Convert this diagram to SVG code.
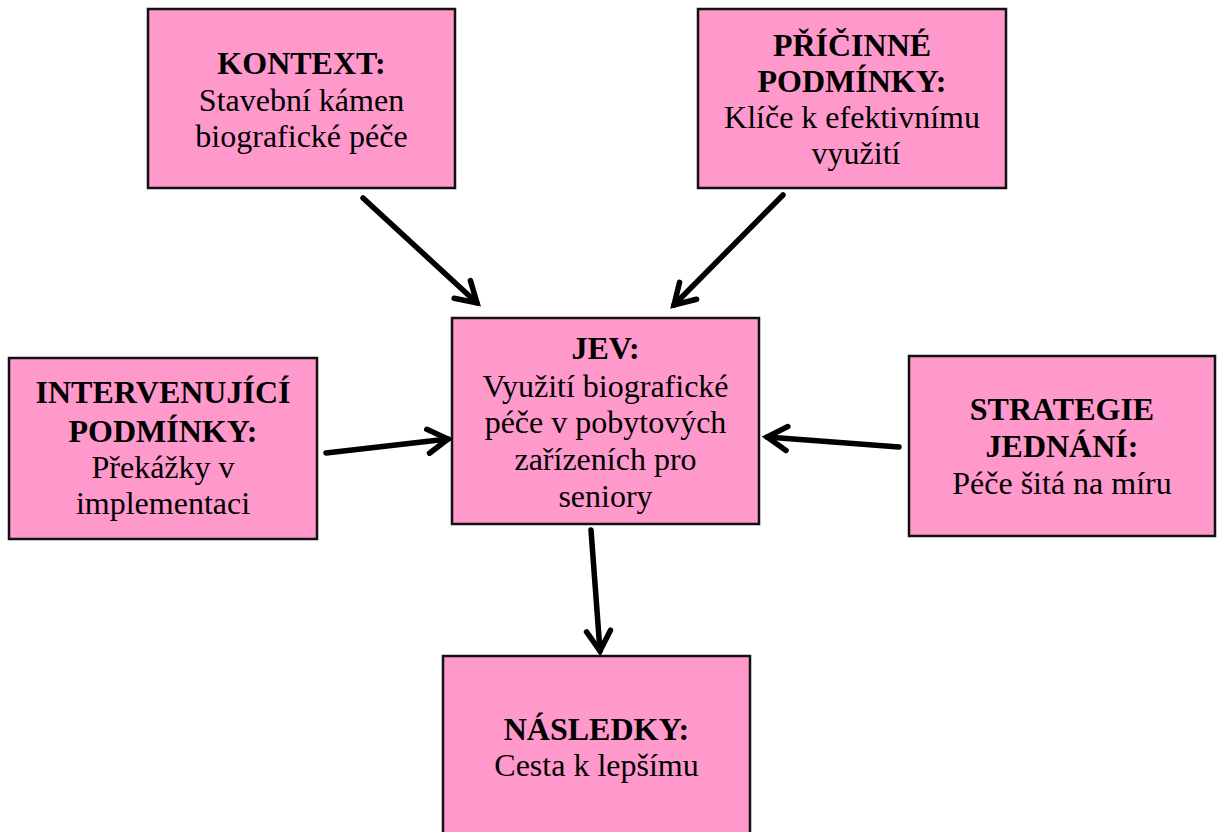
<svg xmlns="http://www.w3.org/2000/svg" width="1219" height="832" viewBox="0 0 1219 832">
<style>
.box{fill:#FF99CC;stroke:#111;stroke-width:2.5}
text{font-family:"Liberation Serif","Times New Roman",serif;font-size:32px;fill:#000;text-anchor:middle}
.b{font-weight:bold}
.c{stroke:#000;stroke-width:5.5;fill:none;stroke-linecap:round}
</style>
<defs>
<marker id="arr" markerUnits="userSpaceOnUse" markerWidth="40" markerHeight="40" viewBox="-30 -20 40 40" refX="0" refY="0" orient="auto" overflow="visible">
<path d="M -20 -12 L 0 0 L -20 12" fill="none" stroke="#000" stroke-width="5.5" stroke-linecap="round" stroke-linejoin="miter"/>
</marker>
</defs>
<rect width="1219" height="832" fill="#fff"/>
<g id="kontext">
<rect class="box" x="148" y="9" width="307" height="179"/>
<text x="301.5" y="74" class="b">KONTEXT:</text>
<text x="301.5" y="111">Stavební kámen</text>
<text x="301.5" y="147">biografické péče</text>
</g>
<g id="pricinne">
<rect class="box" x="698" y="9" width="308" height="179"/>
<text x="852" y="56" class="b">PŘÍČINNÉ</text>
<text x="852" y="92" class="b">PODMÍNKY:</text>
<text x="852" y="128">Klíče k efektivnímu</text>
<text x="856" y="164">využití</text>
</g>
<g id="jev">
<rect class="box" x="452" y="318" width="307" height="206"/>
<text x="605.5" y="359" class="b">JEV:</text>
<text x="605.5" y="397">Využití biografické</text>
<text x="605.5" y="433">péče v pobytových</text>
<text x="605.5" y="470">zařízeních pro</text>
<text x="605.5" y="507">seniory</text>
</g>
<g id="intervenujici">
<rect class="box" x="9" y="358" width="308" height="181"/>
<text x="163" y="403" class="b">INTERVENUJÍCÍ</text>
<text x="163" y="442" class="b">PODMÍNKY:</text>
<text x="163" y="478">Překážky v</text>
<text x="163" y="514">implementaci</text>
</g>
<g id="strategie">
<rect class="box" x="909" y="356" width="306" height="180"/>
<text x="1062" y="420" class="b">STRATEGIE</text>
<text x="1062" y="457" class="b">JEDNÁNÍ:</text>
<text x="1062" y="494">Péče šitá na míru</text>
</g>
<g id="nasledky">
<rect class="box" x="443" y="656" width="307" height="190"/>
<text x="596.5" y="740" class="b">NÁSLEDKY:</text>
<text x="596.5" y="776">Cesta k lepšímu</text>
</g>
<g id="connectors">
<line class="c" x1="363" y1="198" x2="477" y2="303" marker-end="url(#arr)"/>
<line class="c" x1="783" y1="195" x2="674" y2="305" marker-end="url(#arr)"/>
<line class="c" x1="326" y1="453" x2="448" y2="439" marker-end="url(#arr)"/>
<line class="c" x1="899" y1="447" x2="767" y2="437" marker-end="url(#arr)"/>
<line class="c" x1="591" y1="530" x2="600" y2="651" marker-end="url(#arr)"/>
</g>
</svg>
